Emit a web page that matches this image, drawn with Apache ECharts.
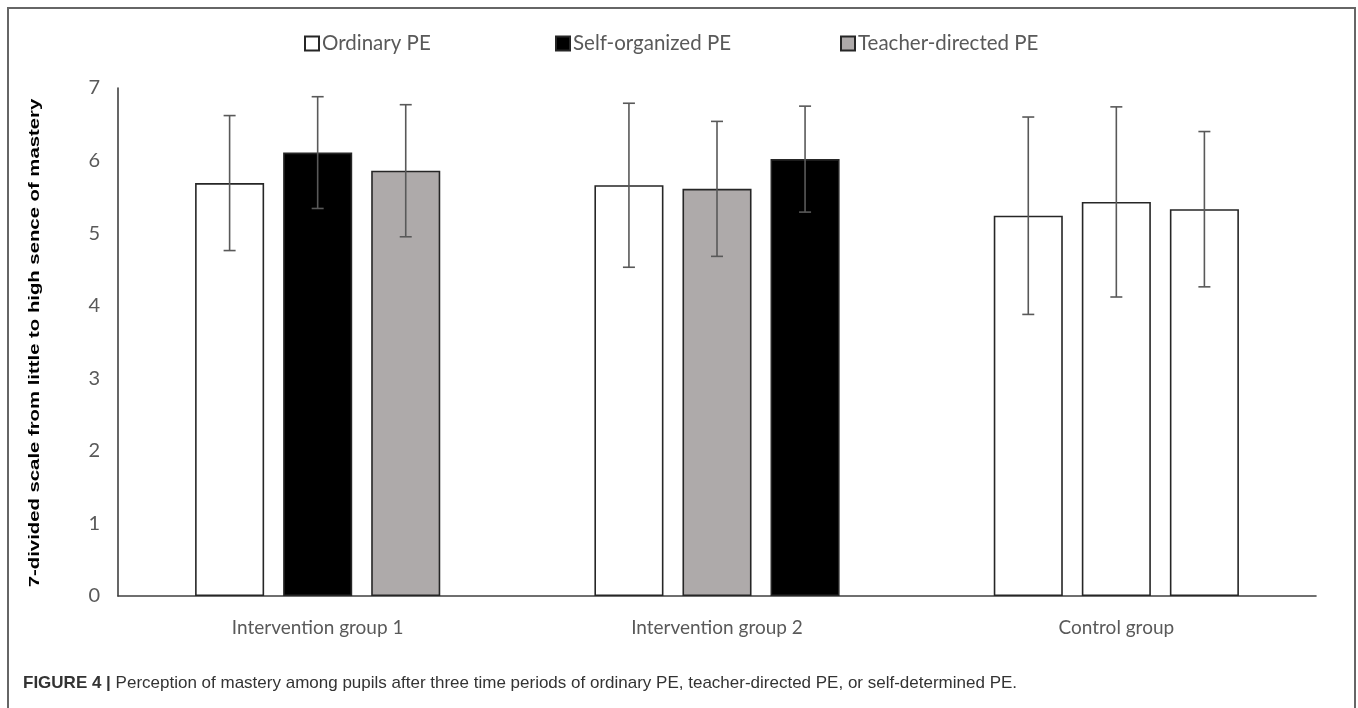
<!DOCTYPE html>
<html>
<head>
<meta charset="utf-8">
<script src="https://cdn.jsdelivr.net/npm/echarts@6/dist/echarts.min.js"></script>
<style>
  html, body { margin: 0; padding: 0; background: #ffffff; }
  #chart { width: 1358px; height: 708px; }
</style>
</head>
<body>
<div id="chart"></div>
<script>
// Groups on the x axis
const groups = ['Intervention group 1', 'Intervention group 2', 'Control group'];
// PE types shown in the legend
const peTypes = ['Ordinary PE', 'Self-organized PE', 'Teacher-directed PE'];

// Mean mastery score in the 1st, 2nd and 3rd time period of each group
const period1Mean = [5.69, 5.66, 5.24];
const period2Mean = [6.11, 5.61, 5.43];
const period3Mean = [5.86, 6.02, 5.33];

// Standard deviations (error bars)
const period1SD = [0.93, 1.13, 1.36];
const period2SD = [0.77, 0.93, 1.31];
const period3SD = [0.91, 0.73, 1.07];

// Type of PE taught in each period
const period1Type = ['Ordinary PE', 'Ordinary PE', 'Ordinary PE'];
const period2Type = ['Self-organized PE', 'Teacher-directed PE', 'Ordinary PE'];
const period3Type = ['Teacher-directed PE', 'Self-organized PE', 'Ordinary PE'];

// y axis ticks
const yTicks = [0, 1, 2, 3, 4, 5, 6, 7];

const yTitle = '7-divided scale from little to high sence of mastery';
const captionBold = 'FIGURE 4 |';
const captionText = ' Perception of mastery among pupils after three time periods of ordinary PE, teacher-directed PE, or self-determined PE.';

const typeColor = {
  'Ordinary PE': '#ffffff',
  'Self-organized PE': '#000000',
  'Teacher-directed PE': '#aeaaaa'
};

const means = [period1Mean, period2Mean, period3Mean];
const sds = [period1SD, period2SD, period3SD];
const types = [period1Type, period2Type, period3Type];

const CAT_GAP = 0.386;
const BAR_GAP = 0.275;
const LABEL_FONT = 'Lato, "Open Sans", sans-serif';
const CAPTION_FONT = '"Liberation Sans", Arial, sans-serif';

const barSeries = means.map((m, p) => ({
  name: 'Period ' + (p + 1),
  type: 'bar',
  barCategoryGap: (CAT_GAP * 100) + '%',
  barGap: (BAR_GAP * 100) + '%',
  itemStyle: { borderColor: '#262626', borderWidth: 1.6 },
  emphasis: { disabled: true },
  data: m.map((v, i) => ({
    value: v,
    itemStyle: { color: typeColor[types[p][i]] }
  })),
  z: 2
}));

// error bar data: [category index, low, high, period index]
const errData = [];
means.forEach((m, p) => {
  m.forEach((v, i) => {
    errData.push([i, v - sds[p][i], v + sds[p][i], p]);
  });
});

const errorSeries = {
  type: 'custom',
  name: 'sd',
  data: errData,
  z: 5,
  silent: true,
  renderItem: function (params, api) {
    const cat = api.value(0);
    const lo = api.value(1);
    const hi = api.value(2);
    const p = api.value(3);
    const band = api.size([1, 0])[0];
    const bw = band * (1 - CAT_GAP) / (3 + 2 * BAR_GAP);
    const x = api.coord([cat, 0])[0] + (p - 1) * bw * (1 + BAR_GAP);
    const yl = api.coord([cat, lo])[1];
    const yh = api.coord([cat, hi])[1];
    const cap = 6;
    const st = { stroke: '#595959', lineWidth: 1.6 };
    return {
      type: 'group',
      children: [
        { type: 'line', shape: { x1: x, y1: yh, x2: x, y2: yl }, style: st },
        { type: 'line', shape: { x1: x - cap, y1: yh, x2: x + cap, y2: yh }, style: st },
        { type: 'line', shape: { x1: x - cap, y1: yl, x2: x + cap, y2: yl }, style: st }
      ]
    };
  }
};

// legend-only series, kept on hidden axes so they take no bar slot
const legendSeries = peTypes.map(t => ({
  name: t,
  type: 'bar',
  xAxisIndex: 1,
  yAxisIndex: 1,
  data: [],
  itemStyle: { color: typeColor[t], borderColor: '#262626', borderWidth: 1.2 }
}));

const legendLeft = [299, 550, 835];
const legends = peTypes.map((t, k) => ({
  data: [t],
  left: legendLeft[k],
  top: 28,
  icon: 'rect',
  itemWidth: 14,
  itemHeight: 14,
  itemGap: 4,
  selectedMode: false,
  textStyle: { fontFamily: LABEL_FONT, fontSize: 20.5, color: '#595959', padding: [0, 0, 0, -2] }
}));

const chart = echarts.init(document.getElementById('chart'), null, { renderer: 'canvas' });

chart.setOption({
  animation: false,
  backgroundColor: '#ffffff',
  legend: legends,
  grid: [
    { left: 118, right: 42, top: 88, bottom: 112 },
    { left: 118, right: 42, top: 88, bottom: 112 }
  ],
  xAxis: [
    {
      type: 'category',
      data: groups,
      gridIndex: 0,
      axisLine: { lineStyle: { color: '#404040', width: 1.6 } },
      axisTick: { show: false },
      axisLabel: { fontFamily: LABEL_FONT, fontSize: 19, color: '#595959', margin: 22 }
    },
    { type: 'category', gridIndex: 1, show: false, data: [''] }
  ],
  yAxis: [
    {
      type: 'value',
      gridIndex: 0,
      min: yTicks[0],
      max: yTicks[yTicks.length - 1],
      interval: 1,
      axisLine: { show: true, lineStyle: { color: '#404040', width: 1.6 } },
      axisTick: { show: false },
      splitLine: { show: false },
      axisLabel: { fontFamily: LABEL_FONT, fontSize: 20, color: '#595959', margin: 18 }
    },
    { type: 'value', gridIndex: 1, show: false }
  ],
  graphic: [
    {
      type: 'rect',
      shape: { x: 8, y: 8, width: 1347, height: 720 },
      style: { fill: 'none', stroke: '#666666', lineWidth: 2 },
      silent: true
    },
    {
      // y axis title, narrow bold type stretched along the axis
      type: 'text',
      x: 35,
      y: 343,
      rotation: Math.PI / 2,
      scaleX: 1.45,
      style: {
        text: yTitle,
        font: 'bold 14px ' + CAPTION_FONT,
        fill: '#000000',
        align: 'center',
        verticalAlign: 'middle'
      },
      silent: true
    },
    {
      type: 'text',
      left: 23,
      top: 675,
      style: {
        text: '{b|' + captionBold + '}' + captionText,
        font: '17px ' + CAPTION_FONT,
        fill: '#333333',
        rich: {
          b: { fontWeight: 'bold', fontSize: 17, fontFamily: CAPTION_FONT, fill: '#333333' }
        }
      },
      silent: true
    }
  ],
  series: barSeries.concat([errorSeries]).concat(legendSeries)
});
</script>
</body>
</html>
